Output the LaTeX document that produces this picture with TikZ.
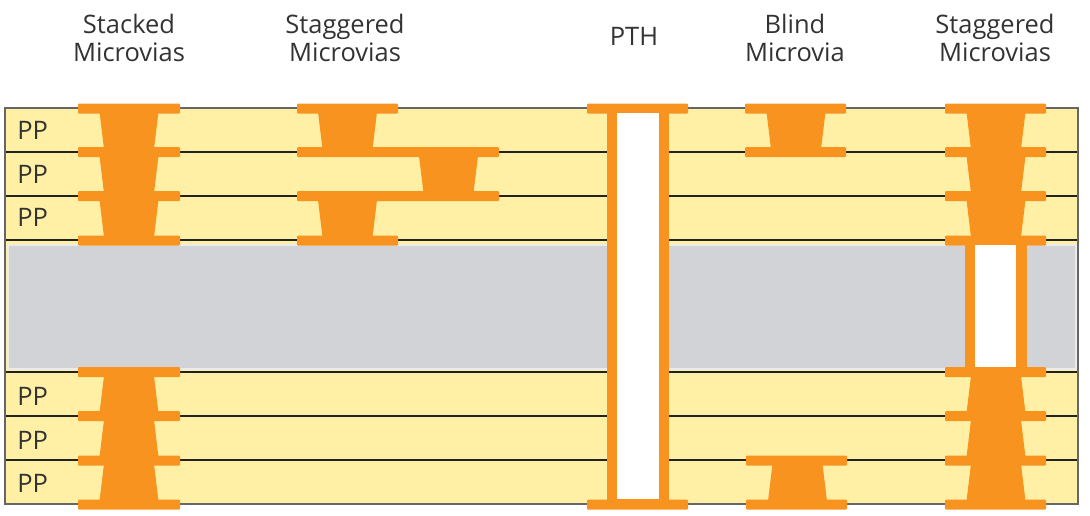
\documentclass[tikz,border=0pt]{standalone}
\usepackage{fontspec}
\setmainfont{Open Sans}
\usepackage{tikz}
\usetikzlibrary{positioning}
\definecolor{cpp}{HTML}{FFF0A6}
\definecolor{ccore}{HTML}{D1D3D6}
\definecolor{ccopper}{HTML}{F7931E}
\definecolor{cline}{HTML}{222222}
\definecolor{cedge}{HTML}{666666}
\definecolor{ctext}{HTML}{333333}
\begin{document}
\begin{tikzpicture}[
  x=0.02cm, y=-0.02cm,
  layer/.style={fill=cpp},
  core/.style={fill=ccore, draw=white!92!black, line width=0.03cm},
  foil/.style={cline, line width=0.05cm},
  edge/.style={cedge, line width=0.05cm},
  pad/.style={fill=ccopper, rounded corners=0.02cm},
  via/.style={fill=ccopper},
  hole/.style={fill=white},
  head/.style={font=\fontsize{14.5}{16}\selectfont, text=ctext, align=center, inner sep=0pt},
  pplab/.style={font=\fontsize{14.5}{16}\selectfont, text=ctext, inner sep=0pt},
]
\useasboundingbox (0,0) rectangle (1090,515);

% ================= board =================
\fill[layer] (5,108) rectangle (1078,504);
\fill[core] (8,245) rectangle (1076,369);
\foreach \y in {152,196,240,372,416,460}{
  \draw[foil] (5,\y) -- (1078,\y);
}
\draw[edge] (1078,108) -- (5,108) -- (5,504) -- (1078,504) -- cycle;

% ================= pads =================
\foreach \xa/\xb/\y in {78/180/108.5, 78/180/152, 78/180/196, 78/180/240.5, 78/180/372, 78/180/416, 78/180/460.5, 78/180/504.5,
  297/398/108.5, 297/499/152, 297/499/196, 297/398/240.5,
  587/688/108.5, 587/688/504.5,
  745/846/108.5, 745/846/152, 746/847/460.5, 746/847/504.5,
  945/1046/108.5, 945/1046/152, 945/1046/196, 945/1046/240.5, 945/1046/372, 945/1046/416, 945/1046/460.5, 945/1046/504.5}{
  \fill[pad] (\xa,\y-5) rectangle (\xb,\y+5);
}

% ================= vias, wide end up =================
\foreach \x/\y in {129/108, 129/152, 129/196, 347.5/108, 448.5/152, 347.5/196, 796/108, 996/108, 996/152, 996/196}{
  \fill[via] (\x-29.5,\y+4) -- (\x+29.5,\y+4) -- (\x+25,\y+41) -- (\x-25,\y+41) -- cycle;
}

% ================= vias, wide end down =================
\foreach \x/\y in {129/372, 129/416, 129/460, 797.5/460, 996/372, 996/416, 996/460}{
  \fill[via] (\x-25,\y+4) -- (\x+25,\y+4) -- (\x+29.5,\y+41) -- (\x-29.5,\y+41) -- cycle;
}

% ================= plated holes =================
\fill[via] (607,113) rectangle (669,500);
\fill[hole] (617,113) rectangle (659,499);
\fill[via] (965,244) rectangle (1027,369);
\fill[hole] (975,245) rectangle (1016,367);

% ================= labels =================
\node[head] (stacked) at (129,38) {Stacked\\Microvias};
\node[head] (staggeredA) at (345,38) {Staggered\\Microvias};
\node[head] (pth) at (634,36) {PTH};
\node[head] (blind) at (795,38) {Blind\\Microvia};
\node[head] (staggeredB) at (995,38) {Staggered\\Microvias};

\foreach \y/\i in {130/1, 174/2, 217/3, 396/4, 440/5, 483/6}{
  \node[pplab, anchor=west] (pp\i) at (17,\y) {PP};
}
\end{tikzpicture}
\end{document}
